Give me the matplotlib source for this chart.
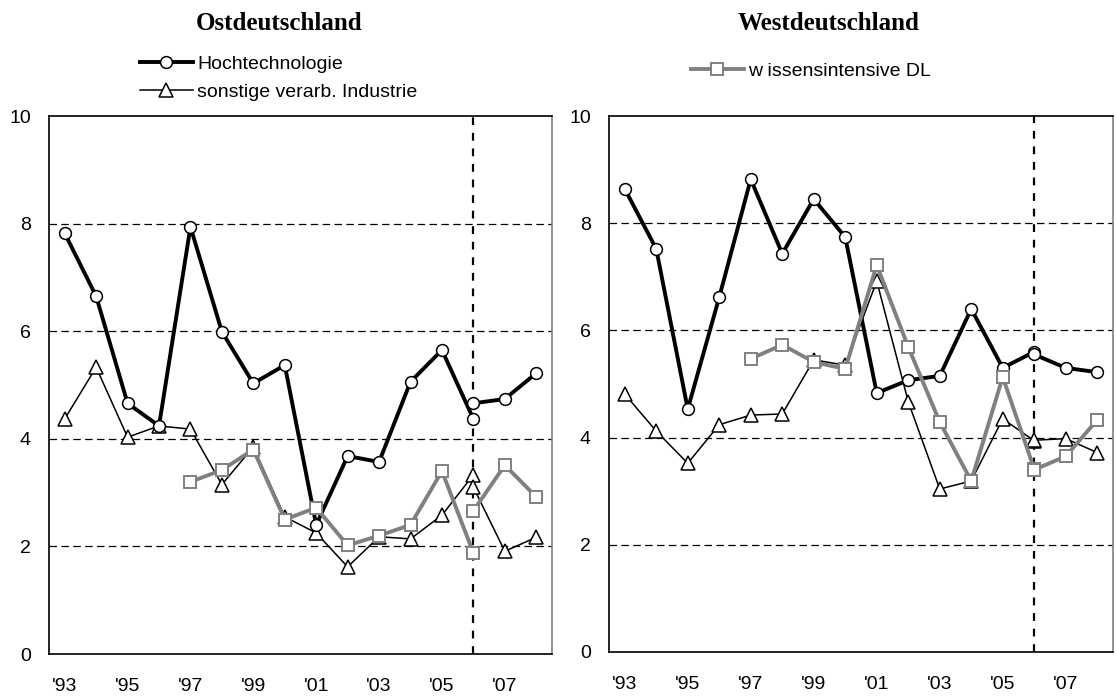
import matplotlib.pyplot as plt
import numpy as np

# years of the old series (up to 2006) and of the new series (from 2006)
years_old = list(range(1993, 2007))
years_new = [2006, 2007, 2008]
tick_years = list(range(1993, 2008, 2))
tick_labels = ["'93", "'95", "'97", "'99", "'01", "'03", "'05", "'07"]

# Ostdeutschland
ost_hoch_old = [7.82, 6.65, 4.66, 4.24, 7.94, 5.99, 5.03, 5.37, 2.40, 3.68, 3.57, 5.06, 5.65, 4.37]
ost_hoch_new = [4.66, 4.74, 5.22]
ost_sonst_old = [4.37, 5.33, 4.03, 4.24, 4.18, 3.15, 3.85, 2.55, 2.25, 1.62, 2.18, 2.14, 2.58, 3.33]
ost_sonst_new = [3.10, 1.91, 2.17]
ost_wiss_old = [None, None, None, None, 3.20, 3.42, 3.80, 2.50, 2.72, 2.02, 2.20, 2.40, 3.40, 1.88]
ost_wiss_new = [2.66, 3.51, 2.92]

# Westdeutschland
west_hoch_old = [8.64, 7.52, 4.53, 6.62, 8.82, 7.43, 8.45, 7.74, 4.83, 5.07, 5.15, 6.40, 5.30, 5.60]
west_hoch_new = [5.55, 5.30, 5.22]
west_sonst_old = [4.81, 4.12, 3.52, 4.24, 4.42, 4.44, 5.45, 5.35, 6.92, 4.67, 3.04, 3.19, 4.35, 3.94]
west_sonst_new = [3.95, 3.98, 3.72]
west_wiss_old = [None, None, None, None, 5.47, 5.73, 5.41, 5.28, 7.22, 5.69, 4.29, 3.19, 5.13, 3.41]
west_wiss_new = [3.40, 3.65, 4.33]

label_hoch = "Hochtechnologie"
label_sonst = "sonstige verarb. Industrie"
label_wiss = "w issensintensive DL"

GRAY = "#808080"
style_hoch = dict(color="black", lw=2.8, marker="o", ms=8.5, mfc="white", mec="black", mew=1.1)
style_sonst = dict(color="black", lw=1.1, marker="^", ms=9.5, mfc="white", mec="black", mew=1.1)
style_wiss = dict(color=GRAY, lw=2.8, marker="s", ms=8, mfc="white", mec=GRAY, mew=1.4)


def arr(v):
    return np.array([np.nan if x is None else x for x in v], dtype=float)


def panel(ax, hoch_old, hoch_new, sonst_old, sonst_new, wiss_old, wiss_new):
    ax.axvline(2006, ymin=0, ymax=1.01, color="black", lw=1.6, ls=(0, (3.5, 3.5)), clip_on=False, zorder=1)
    ax.set_yticks([0, 2, 4, 6, 8, 10])
    for y in [2, 4, 6, 8]:
        ax.axhline(y, color="black", lw=0.9, ls=(0, (6, 3.5)), zorder=0)
    hs, = ax.plot(years_old, arr(sonst_old), zorder=3, **style_sonst)
    ax.plot(years_new, arr(sonst_new), zorder=3, **style_sonst)
    hh, = ax.plot(years_old, arr(hoch_old), zorder=4, **style_hoch)
    ax.plot(years_new, arr(hoch_new), zorder=4, **style_hoch)
    hw, = ax.plot(years_old, arr(wiss_old), zorder=5, **style_wiss)
    ax.plot(years_new, arr(wiss_new), zorder=5, **style_wiss)
    ax.set_xlim(1992.5, 2008.5)
    ax.set_ylim(0, 10)
    ax.set_xticks(tick_years)
    ax.set_xticklabels(tick_labels)
    ax.tick_params(axis="x", length=0, pad=17, labelsize=14)
    ax.tick_params(axis="y", length=0, pad=13, labelsize=14)
    for s in ["left", "bottom", "top"]:
        ax.spines[s].set_color("black")
        ax.spines[s].set_linewidth(1.2)
    ax.spines["right"].set_color(GRAY)
    ax.spines["right"].set_linewidth(1.2)
    return hh, hs, hw


plt.rcParams["font.family"] = ["Liberation Sans", "DejaVu Sans"]
fig = plt.figure(figsize=(11.16, 6.98), dpi=100)
ax1 = fig.add_axes([0.0439, 0.063, 0.4507, 0.7708])
ax2 = fig.add_axes([0.5457, 0.066, 0.4516, 0.7678])

hh, hs, hw = panel(ax1, ost_hoch_old, ost_hoch_new, ost_sonst_old, ost_sonst_new, ost_wiss_old, ost_wiss_new)
panel(ax2, west_hoch_old, west_hoch_new, west_sonst_old, west_sonst_new, west_wiss_old, west_wiss_new)

fig.text(279 / 1116, 1 - 23 / 698, "Ostdeutschland", ha="center", va="center",
         fontsize=18, fontweight="bold", family="Liberation Serif")
fig.text(829 / 1116, 1 - 23 / 698, "Westdeutschland", ha="center", va="center",
         fontsize=18, fontweight="bold", family="Liberation Serif")

fig.legend([hh, hs], [label_hoch, label_sonst], loc="center left",
           bbox_to_anchor=(140 / 1116, 1 - 78 / 698), frameon=False, fontsize=14,
           borderpad=0, borderaxespad=0, handlelength=2.7, handletextpad=0.25, labelspacing=0.55)
fig.legend([hw], [label_wiss], loc="center left",
           bbox_to_anchor=(691 / 1116, 1 - 71 / 698), frameon=False, fontsize=14,
           borderpad=0, borderaxespad=0, handlelength=2.7, handletextpad=0.25)

fig.savefig("out.png", dpi=100)
